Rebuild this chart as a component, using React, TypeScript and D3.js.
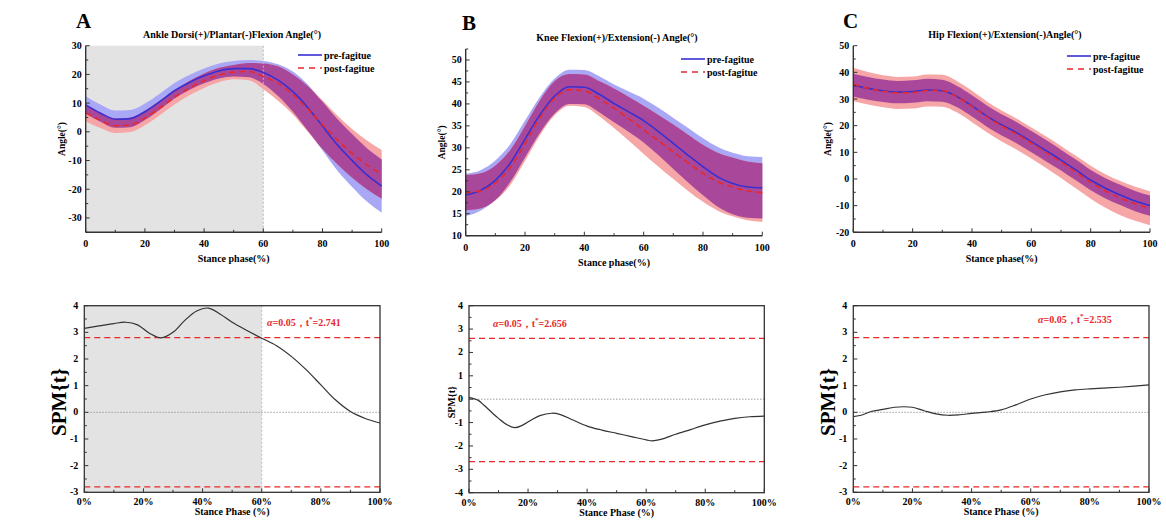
import React from "react";
import * as d3 from "d3";

// ---------- DATA ----------
const phase = [0, 5, 10, 15, 20, 25, 30, 35, 40, 45, 50, 55, 60, 65, 70, 75, 80, 85, 90, 95, 100];

// Ankle
const anklePre = [9.4, 6.5, 4.4, 4.6, 7.0, 10.5, 14.3, 17.2, 19.5, 21.2, 22.0, 22.0, 20.7, 18.0, 14.0, 8.5, 2.0, -4.5, -10.0, -15.0, -18.9];
const anklePreSd = [3.0, 3.0, 3.0, 3.0, 2.9, 2.8, 2.7, 2.6, 2.6, 2.6, 2.7, 3.0, 4.0, 5.5, 7.0, 8.0, 8.5, 9.0, 9.2, 9.3, 9.3];
const anklePost = [6.6, 4.0, 2.1, 2.4, 4.8, 8.3, 12.0, 15.2, 17.8, 19.8, 20.8, 21.0, 19.3, 16.8, 13.0, 8.0, 2.5, -2.8, -7.5, -11.5, -14.8];
const anklePostSd = [3.0, 2.7, 2.5, 2.5, 2.5, 2.5, 2.5, 2.5, 2.5, 2.5, 2.5, 3.0, 4.5, 6.0, 7.0, 8.0, 8.5, 8.5, 8.5, 8.5, 8.5];
const ankleYTicks = [-30, -20, -10, 0, 10, 20, 30];

// Knee
const kneePre = [19.3, 20.3, 22.6, 26.5, 32.0, 37.5, 41.8, 43.9, 43.8, 42.2, 40.1, 38.2, 36.2, 33.7, 31.0, 28.3, 25.7, 23.4, 21.9, 21.1, 20.9];
const kneePreSd = [4.8, 4.6, 4.5, 4.3, 4.2, 4.1, 4.0, 3.9, 3.9, 4.1, 4.3, 4.6, 5.0, 5.4, 5.8, 6.2, 6.5, 6.8, 7.0, 7.0, 7.0];
const kneePost = [19.8, 20.2, 22.0, 25.5, 31.0, 36.8, 41.3, 43.2, 43.0, 41.2, 39.0, 36.6, 34.1, 31.6, 29.1, 26.6, 24.2, 22.3, 21.1, 20.2, 19.8];
const kneePostSd = [4.0, 4.0, 4.0, 4.0, 4.0, 4.0, 3.9, 3.6, 3.7, 4.0, 4.5, 5.0, 5.5, 5.9, 6.2, 6.4, 6.5, 6.6, 6.7, 6.7, 6.7];
const kneeYTicks = [10, 15, 20, 25, 30, 35, 40, 45, 50];

// Hip
const hipPre = [35.2, 34.0, 33.1, 32.6, 32.8, 33.4, 33.1, 30.9, 27.4, 23.6, 20.3, 17.4, 14.0, 10.6, 7.1, 3.4, -0.4, -3.5, -6.0, -8.3, -10.0];
const hipPreSd = [4.3, 4.3, 4.2, 4.2, 4.2, 4.2, 4.1, 4.0, 4.0, 4.0, 4.0, 4.0, 4.0, 4.0, 3.9, 3.9, 3.8, 3.8, 3.8, 3.8, 3.8];
const hipPost = [35.5, 34.0, 32.9, 32.3, 32.4, 33.2, 33.1, 30.8, 27.2, 23.3, 19.9, 16.9, 13.5, 10.0, 6.4, 2.6, -1.2, -4.5, -7.2, -9.3, -11.0];
const hipPostSd = [6.2, 6.1, 6.0, 6.0, 6.0, 6.0, 6.0, 5.9, 5.9, 5.8, 5.8, 5.8, 5.8, 5.9, 6.0, 6.1, 6.2, 6.3, 6.4, 6.4, 6.4];
const hipYTicks = [-20, -10, 0, 10, 20, 30, 40, 50];

const phaseTicks = [0, 20, 40, 60, 80, 100];

// SPM curves
const spmPhaseA = [0, 5, 10, 14, 18, 22, 26, 30, 34, 38, 42, 46, 50, 55, 60, 65, 70, 75, 80, 85, 90, 95, 100];
const spmA = [3.15, 3.24, 3.33, 3.38, 3.28, 2.97, 2.79, 3.0, 3.45, 3.8, 3.91, 3.68, 3.38, 3.07, 2.78, 2.5, 2.1, 1.6, 1.03, 0.46, 0.03, -0.23, -0.4];
const spmPhaseB = [0, 3, 5, 8, 10, 13, 15.5, 18, 21, 24, 28, 31, 35, 40, 45, 50, 55, 60, 62, 65, 70, 75, 80, 85, 90, 95, 100];
const spmB = [0.08, -0.04, -0.25, -0.6, -0.82, -1.1, -1.22, -1.12, -0.9, -0.7, -0.6, -0.66, -0.88, -1.15, -1.32, -1.46, -1.6, -1.74, -1.78, -1.72, -1.5, -1.3, -1.1, -0.94, -0.82, -0.75, -0.72];
const spmPhaseC = [0, 3, 6, 10, 14, 17, 20, 24, 28, 32, 36, 40, 45, 50, 55, 60, 65, 70, 75, 80, 85, 90, 95, 100];
const spmC = [-0.16, -0.1, 0.03, 0.11, 0.19, 0.21, 0.19, 0.06, -0.06, -0.11, -0.09, -0.04, 0.01, 0.09, 0.28, 0.5, 0.66, 0.77, 0.84, 0.88, 0.91, 0.94, 0.98, 1.03];

const thresholdA = [2.8, -2.8];
const thresholdB = [2.6, -2.67];
const thresholdC = [2.8, -2.8];
const tStarLabels = ["2.741", "2.656", "2.535"];
const spmYTicks4 = [-3, -2, -1, 0, 1, 2, 3, 4];
const spmYTicksB = [-4, -3, -2, -1, 0, 1, 2, 3, 4];

const significantEnd = 60;

// ---------- STYLE ----------
const FONT = "'Liberation Serif', 'Times New Roman', serif";
const AXIS = "#333";
const BLUE = "#3a2fd0";
const RED = "#e8282a";
const BLUE_BAND = "#a8a8f6";
const RED_BAND = "#f6a6a6";
const OVERLAP = "#a9489a";
const GREY = "#e3e3e3";

type TopProps = {
  letter: string; title: string;
  left: number; right: number; top: number; bottom: number;
  yDomain: [number, number]; yTicks: number[]; yMinor: number;
  pre: number[]; preSd: number[]; post: number[]; postSd: number[];
  shade?: number; titleX: number; letterX: number; letterY: number;
  yLabelX: number; legendX: number; legendY: number;
};

function TopPanel(p: TopProps) {
  const x = d3.scaleLinear().domain([0, 100]).range([p.left, p.right]);
  const y = d3.scaleLinear().domain(p.yDomain).range([p.bottom, p.top]);
  const rows = phase.map((ph, i) => {
    const pl = p.pre[i] - p.preSd[i], pu = p.pre[i] + p.preSd[i];
    const ql = p.post[i] - p.postSd[i], qu = p.post[i] + p.postSd[i];
    const ol = Math.max(pl, ql);
    const ou = Math.max(ol, Math.min(pu, qu));
    return { ph, pl, pu, ql, qu, ol, ou, pre: p.pre[i], post: p.post[i] };
  });
  const curve = d3.curveMonotoneX;
  const area = (lo: (r: any) => number, hi: (r: any) => number) =>
    d3.area<any>().x((r) => x(r.ph)).y0((r) => y(lo(r))).y1((r) => y(hi(r))).curve(curve)(rows) || "";
  const line = (f: (r: any) => number) =>
    d3.line<any>().x((r) => x(r.ph)).y((r) => y(f(r))).curve(curve)(rows) || "";
  const minorY = d3.range(p.yDomain[0], p.yDomain[1] + 1e-6, p.yMinor).filter((v) => !p.yTicks.includes(v));
  const minorX = [10, 30, 50, 70, 90];
  const cy = (p.top + p.bottom) / 2;
  return (
    <g fontFamily={FONT} fontWeight="bold">
      <text x={p.letterX} y={p.letterY} fontSize={21}>{p.letter}</text>
      <text x={p.titleX} y={p.top - 8} fontSize={10} textAnchor="middle">{p.title}</text>
      {p.shade !== undefined && (
        <rect x={x(0)} y={p.top} width={x(p.shade) - x(0)} height={p.bottom - p.top} fill={GREY} />
      )}
      <path d={area((r) => r.pl, (r) => r.pu)} fill={BLUE_BAND} />
      <path d={area((r) => r.ql, (r) => r.qu)} fill={RED_BAND} />
      <path d={area((r) => r.ol, (r) => r.ou)} fill={OVERLAP} />
      {p.shade !== undefined && (
        <line x1={x(p.shade)} x2={x(p.shade)} y1={p.top} y2={p.bottom} stroke="#bbb" strokeDasharray="2,2" strokeWidth={1} />
      )}
      <path d={line((r) => r.pre)} fill="none" stroke={BLUE} strokeWidth={1.6} />
      <path d={line((r) => r.post)} fill="none" stroke={RED} strokeWidth={1.6} strokeDasharray="6,4" />
      <line x1={p.left} x2={p.left} y1={p.top} y2={p.bottom} stroke={AXIS} strokeWidth={1.4} />
      <line x1={p.left} x2={p.right} y1={p.bottom} y2={p.bottom} stroke={AXIS} strokeWidth={1.4} />
      {p.yTicks.map((v) => (
        <g key={"y" + v}>
          <line x1={p.left} x2={p.left + 4} y1={y(v)} y2={y(v)} stroke={AXIS} />
          <text x={p.left - 4} y={y(v) + 3.5} fontSize={10} textAnchor="end">{v}</text>
        </g>
      ))}
      {minorY.map((v) => (
        <line key={"ym" + v} x1={p.left} x2={p.left + 2.5} y1={y(v)} y2={y(v)} stroke={AXIS} />
      ))}
      {phaseTicks.map((v) => (
        <g key={"x" + v}>
          <line x1={x(v)} x2={x(v)} y1={p.bottom} y2={p.bottom - 4} stroke={AXIS} />
          <text x={x(v)} y={p.bottom + 15} fontSize={10} textAnchor="middle">{v}</text>
        </g>
      ))}
      {minorX.map((v) => (
        <line key={"xm" + v} x1={x(v)} x2={x(v)} y1={p.bottom} y2={p.bottom - 2.5} stroke={AXIS} />
      ))}
      <text x={(p.left + p.right) / 2} y={p.bottom + 30} fontSize={10} textAnchor="middle">Stance phase(%)</text>
      <text transform={`translate(${p.yLabelX},${cy}) rotate(-90)`} fontSize={9.5} textAnchor="middle">Angle(°)</text>
      <line x1={p.legendX} x2={p.legendX + 24} y1={p.legendY} y2={p.legendY} stroke={BLUE} strokeWidth={1.6} />
      <text x={p.legendX + 26} y={p.legendY + 3.5} fontSize={10}>pre-fagitue</text>
      <line x1={p.legendX} x2={p.legendX + 24} y1={p.legendY + 13} y2={p.legendY + 13} stroke={RED} strokeWidth={1.6} strokeDasharray="6,5" />
      <text x={p.legendX + 26} y={p.legendY + 16.5} fontSize={10}>post-fagitue</text>
    </g>
  );
}

type BotProps = {
  left: number; right: number; top: number; bottom: number;
  yDomain: [number, number]; yTicks: number[];
  ph: number[]; vals: number[]; thr: number[]; tLabel: string;
  labelX: number; labelY: number; big: boolean; yLabelX: number; shade?: number;
};

function BottomPanel(p: BotProps) {
  const x = d3.scaleLinear().domain([0, 100]).range([p.left, p.right]);
  const y = d3.scaleLinear().domain(p.yDomain).range([p.bottom, p.top]);
  const path = d3.line<number>().x((_, i) => x(p.ph[i])).y((v) => y(v)).curve(d3.curveCatmullRom.alpha(0.5))(p.vals) || "";
  const minorY = d3.range(p.yDomain[0] + 0.5, p.yDomain[1], 1);
  const minorX = [10, 30, 50, 70, 90];
  const cy = (p.top + p.bottom) / 2;
  return (
    <g fontFamily={FONT} fontWeight="bold">
      {p.shade !== undefined && (
        <rect x={x(0)} y={p.top} width={x(p.shade) - x(0)} height={p.bottom - p.top} fill={GREY} />
      )}
      {p.shade !== undefined && (
        <line x1={x(p.shade)} x2={x(p.shade)} y1={p.top} y2={p.bottom} stroke="#bbb" strokeDasharray="2,2" />
      )}
      <line x1={p.left} x2={p.right} y1={y(0)} y2={y(0)} stroke="#888" strokeWidth={0.8} strokeDasharray="1.5,1.5" />
      {p.thr.map((t, i) => (
        <line key={"t" + i} x1={p.left} x2={p.right} y1={y(t)} y2={y(t)} stroke={RED} strokeWidth={1.2} strokeDasharray="6,4" />
      ))}
      <path d={path} fill="none" stroke="#333" strokeWidth={1.2} />
      <rect x={p.left} y={p.top} width={p.right - p.left} height={p.bottom - p.top} fill="none" stroke={AXIS} strokeWidth={1.3} />
      {p.yTicks.map((v) => (
        <g key={"y" + v}>
          <line x1={p.left} x2={p.left + 4} y1={y(v)} y2={y(v)} stroke={AXIS} />
          <text x={p.left - 6} y={y(v) + 3} fontSize={10} textAnchor="end">{v}</text>
        </g>
      ))}
      {minorY.map((v) => (
        <line key={"ym" + v} x1={p.left} x2={p.left + 2.5} y1={y(v)} y2={y(v)} stroke={AXIS} />
      ))}
      {phaseTicks.map((v) => (
        <g key={"x" + v}>
          <line x1={x(v)} x2={x(v)} y1={p.bottom} y2={p.bottom - 4} stroke={AXIS} />
          <text x={x(v)} y={p.bottom + 13} fontSize={10} textAnchor="middle">{v}%</text>
        </g>
      ))}
      {minorX.map((v) => (
        <line key={"xm" + v} x1={x(v)} x2={x(v)} y1={p.bottom} y2={p.bottom - 2.5} stroke={AXIS} />
      ))}
      <text x={(p.left + p.right) / 2} y={p.bottom + 23} fontSize={10} textAnchor="middle">Stance Phase (%)</text>
      <text transform={`translate(${p.yLabelX},${cy + 3}) rotate(-90)`} fontSize={p.big ? 21 : 10} textAnchor="middle">SPM{"{t}"}</text>
      <text x={p.labelX} y={p.labelY} fontSize={10} fill={RED}>
        <tspan fontStyle="italic">α</tspan>=0.05，t<tspan dy={-5} fontSize={7}>*</tspan><tspan dy={5}>={p.tLabel}</tspan>
      </text>
    </g>
  );
}

export default function App() {
  return (
    <svg width={1166} height={520} style={{ position: "absolute", left: 0, top: 0, background: "#fff" }}>
      <rect width={1166} height={520} fill="#fff" />
      <TopPanel letter="A" title="Ankle Dorsi(+)/Plantar(-)Flexion Angle(°)"
        left={85.7} right={381.7} top={45.7} bottom={232.3} yDomain={[-35, 30]} yTicks={ankleYTicks} yMinor={5}
        pre={anklePre} preSd={anklePreSd} post={anklePost} postSd={anklePostSd} shade={significantEnd}
        titleX={232} letterX={76} letterY={28} yLabelX={65} legendX={298} legendY={55} />
      <TopPanel letter="B" title="Knee Flexion(+)/Extension(-) Angle(°)"
        left={465.7} right={762.3} top={49} bottom={235.7} yDomain={[10, 52.5]} yTicks={kneeYTicks} yMinor={2.5}
        pre={kneePre} preSd={kneePreSd} post={kneePost} postSd={kneePostSd}
        titleX={617} letterX={462} letterY={30} yLabelX={445} legendX={681} legendY={59} />
      <TopPanel letter="C" title="Hip Flexion(+)/Extension(-)Angle(°)"
        left={853.3} right={1150} top={45.7} bottom={232.3} yDomain={[-20, 50]} yTicks={hipYTicks} yMinor={5}
        pre={hipPre} preSd={hipPreSd} post={hipPost} postSd={hipPostSd}
        titleX={1005} letterX={843} letterY={28} yLabelX={831} legendX={1067} legendY={56} />
      <BottomPanel left={84.3} right={380} top={305.7} bottom={492.3} yDomain={[-3, 4]} yTicks={spmYTicks4}
        ph={spmPhaseA} vals={spmA} thr={thresholdA} tLabel={tStarLabels[0]} labelX={267} labelY={326}
        big={true} yLabelX={66} shade={significantEnd} />
      <BottomPanel left={469} right={764.3} top={305.7} bottom={492.7} yDomain={[-4, 4]} yTicks={spmYTicksB}
        ph={spmPhaseB} vals={spmB} thr={thresholdB} tLabel={tStarLabels[1]} labelX={493} labelY={327}
        big={false} yLabelX={455} />
      <BottomPanel left={853.3} right={1149} top={305.7} bottom={492.3} yDomain={[-3, 4]} yTicks={spmYTicks4}
        ph={spmPhaseC} vals={spmC} thr={thresholdC} tLabel={tStarLabels[2]} labelX={1038} labelY={323}
        big={true} yLabelX={835} />
    </svg>
  );
}
